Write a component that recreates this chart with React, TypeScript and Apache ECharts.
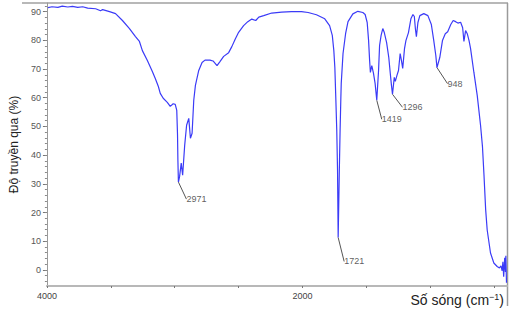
import React, { useEffect, useRef } from "react";
import * as echarts from "echarts";

// Wavenumber (cm^-1) and transmittance (%)
const wavenumbers = [
  3992, 3960, 3914, 3880, 3837, 3800, 3759, 3720, 3681, 3619, 3580, 3564, 3510, 3463,
  3409, 3354, 3307, 3276, 3253, 3214, 3175, 3152, 3128, 3113, 3090, 3058, 3035, 3012,
  2996, 2984, 2978, 2975, 2971, 2962, 2949, 2938, 2922, 2907, 2890, 2877, 2864, 2851,
  2838, 2812, 2786, 2763, 2724, 2700, 2669, 2646, 2617, 2578, 2553, 2527, 2500, 2461,
  2428, 2397, 2366, 2342, 2304, 2241, 2163, 2086, 2008, 1956, 1891, 1826, 1788, 1767,
  1755, 1747, 1739, 1732, 1726, 1721, 1712, 1706, 1700, 1697, 1683, 1663, 1644, 1606,
  1567, 1528, 1510, 1494, 1483, 1475, 1469, 1458, 1445, 1432, 1419, 1405, 1397, 1385,
  1372, 1360, 1342, 1325, 1314, 1304, 1296, 1282, 1274, 1261, 1249, 1236, 1226, 1216,
  1202, 1191, 1171, 1152, 1136, 1125, 1117, 1109, 1097, 1082, 1051, 1019, 992, 973,
  957, 948, 926, 905, 883, 864, 840, 821, 802, 784, 763, 747, 737, 724, 711, 697, 685,
  659, 633, 607, 592, 580, 567, 555, 529, 503, 477, 459, 447, 438, 432, 426, 418, 412,
  409, 404,
];
const transmittance = [
  91.4, 91.7, 91.5, 91.9, 91.6, 91.8, 91.5, 91.7, 91.2, 91.0, 90.3, 90.7, 90.0, 89.3,
  86.9, 84.1, 81.3, 79.6, 76.4, 73.0, 69.1, 66.7, 63.9, 61.5, 59.8, 58.4, 57.0, 57.9,
  57.7, 55.6, 47.0, 38.0, 30.6, 32.5, 37.2, 33.0, 43.4, 50.4, 52.8, 45.9, 47.6, 59.1,
  64.3, 69.5, 72.3, 73.1, 73.1, 72.8, 71.2, 72.6, 74.4, 75.7, 77.8, 80.4, 82.8, 85.1,
  86.5, 87.4, 86.9, 88.1, 88.6, 89.5, 89.8, 90.0, 90.0, 89.7, 88.9, 87.5, 85.1, 81.7,
  76.4, 70.5, 59.1, 48.6, 34.7, 11.3, 34.7, 48.6, 60.0, 65.0, 75.4, 82.3, 86.5, 89.2,
  90.1, 89.7, 89.0, 86.2, 79.9, 73.0, 68.8, 71.2, 68.6, 65.0, 59.1, 69.5, 78.2, 81.7,
  84.1, 82.7, 79.2, 74.0, 68.8, 64.3, 61.2, 67.1, 65.7, 67.8, 69.5, 75.4, 73.0, 70.2,
  77.1, 79.9, 82.7, 87.5, 89.0, 88.3, 84.1, 81.3, 86.2, 88.6, 89.3, 88.6, 85.5, 79.9,
  74.7, 70.5, 74.0, 79.9, 82.3, 83.0, 85.5, 86.9, 86.5, 86.0, 86.3, 84.4, 79.6, 83.4,
  82.3, 79.9, 77.1, 68.8, 60.8, 50.4, 43.0, 33.0, 21.0, 13.9, 5.9, 2.4, 1.2, 0.7, 1.4,
  -0.3, 2.8, -2.4, 4.2, -0.7, 4.9, -4.5,
];

// Annotated peaks
const peakWavenumbers = [2971, 1721, 1419, 1296, 948];
const peakTransmittance = [30.6, 11.3, 59.1, 61.2, 70.5];
const peakLabels = ["2971", "1721", "1419", "1296", "948"];

// Axis ticks
const xTickValues = [500, 1000, 1500, 2000, 2500, 3000, 3500, 4000];
const xLabelValues = [2000, 4000];
const yLabelValues = [0, 10, 20, 30, 40, 50, 60, 70, 80, 90];
const yMinorValues = [-4, -2, 0, 2, 4, 6, 8, 10, 12, 14, 16, 18, 20, 22, 24, 26, 28, 30, 32, 34, 36, 38, 40, 42, 44, 46, 48, 50, 52, 54, 56, 58, 60, 62, 64, 66, 68, 70, 72, 74, 76, 78, 80, 82, 84, 86, 88, 90, 92];

// label offsets (px) for peak annotations
const labelOffsets = [
  [18, 17],
  [16, 24],
  [15, 19],
  [20, 13],
  [18, 16],
];

const FONT = "'Liberation Sans', Arial, sans-serif";

export default function App() {
  const ref = useRef<HTMLDivElement>(null);
  useEffect(() => {
    if (!ref.current) return;
    const chart = echarts.init(ref.current, undefined, { renderer: "svg" });
    const lineData = wavenumbers.map((w, i) => [w, transmittance[i]]);
    const peakData = peakWavenumbers.map((w, i) => ({
      value: [w, peakTransmittance[i]],
      name: peakLabels[i],
    }));
    const yRange = { min: -5.6, max: 93 };
    chart.setOption({
      animation: false,
      backgroundColor: "#ffffff",
      grid: { left: 44, right: 5, top: 3, bottom: 33 },
      xAxis: {
        type: "value",
        inverse: true,
        min: 400,
        max: 4000,
        axisLine: { show: true, onZero: false, lineStyle: { color: "#b8b8b8", width: 2 } },
        axisTick: {
          show: true,
          customValues: xTickValues,
          length: 2,
          inside: false,
          lineStyle: { color: "#777", width: 1 },
        },
        axisLabel: {
          show: true,
          customValues: xLabelValues,
          formatter: (v: number) => String(v),
          color: "#444",
          fontSize: 9,
          fontFamily: FONT,
          margin: 5,
        },
        splitLine: { show: false },
      },
      yAxis: [
        {
          type: "value",
          ...yRange,
          axisLine: { show: true, lineStyle: { color: "#999", width: 1 } },
          axisTick: {
            show: true,
            customValues: yLabelValues,
            length: 4,
            lineStyle: { color: "#777" },
          },
          axisLabel: {
            show: true,
            customValues: yLabelValues,
            color: "#555",
            fontSize: 9,
            fontFamily: FONT,
            margin: 6,
          },
          splitLine: { show: false },
          name: "Độ truyền qua (%)",
          nameLocation: "middle",
          nameGap: 26,
          nameRotate: 90,
          nameTextStyle: { color: "#222", fontSize: 12, fontFamily: FONT },
        },
        {
          type: "value",
          ...yRange,
          position: "left",
          axisLine: { show: false },
          axisTick: {
            show: true,
            customValues: yMinorValues,
            length: 2,
            lineStyle: { color: "#888" },
          },
          axisLabel: { show: false },
          splitLine: { show: false },
        },
      ],
      graphic: [
        {
          type: "line",
          shape: { x1: 22, y1: 3, x2: 508, y2: 3 },
          style: { stroke: "#a0a0a0", lineWidth: 1.5 },
        },
        {
          type: "line",
          shape: { x1: 507.5, y1: 3, x2: 507.5, y2: 306 },
          style: { stroke: "#9a9a9a", lineWidth: 1.5 },
        },
        {
          type: "text",
          right: 8,
          top: 292,
          style: {
            text: "{a|Số sóng (cm}{s|−1}{a|)}",
            fill: "#222",
            font: `14px ${FONT}`,
            rich: {
              a: { fontSize: 14, fontFamily: FONT, fill: "#222", lineHeight: 16 },
              s: { fontSize: 9, fontFamily: FONT, fill: "#222", verticalAlign: "top", lineHeight: 16 },
            },
          },
        },
      ],
      series: [
        {
          type: "line",
          data: lineData,
          showSymbol: false,
          symbol: "none",
          lineStyle: { color: "#3b3bf7", width: 1.2 },
          z: 3,
        },
        {
          type: "scatter",
          data: peakData,
          symbolSize: 0.1,
          itemStyle: { color: "transparent" },
          label: {
            show: true,
            position: "inside",
            formatter: "{b}",
            color: "#333",
            fontSize: 9,
            fontFamily: FONT,
          },
          labelLayout: (p: any) => {
            const off = labelOffsets[p.dataIndex] || [0, 0];
            return { dx: off[0], dy: off[1] };
          },
          labelLine: { show: true, lineStyle: { color: "#555", width: 1 } },
          z: 4,
        },
      ],
    });
    return () => chart.dispose();
  }, []);
  return (
    <div
      ref={ref}
      style={{ position: "fixed", left: 0, top: 0, width: 512, height: 319 }}
    />
  );
}
